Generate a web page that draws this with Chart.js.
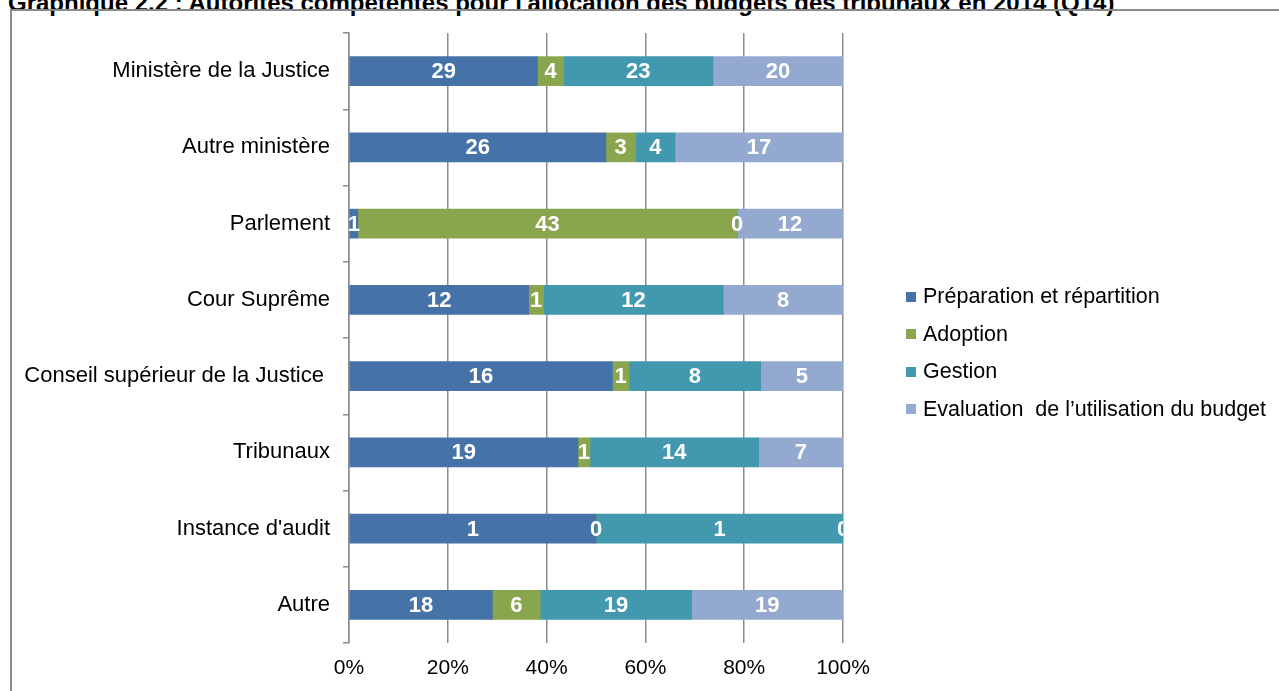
<!DOCTYPE html>
<html lang="fr">
<head>
<meta charset="utf-8">
<title>Graphique 2.2</title>
<script src="https://cdn.jsdelivr.net/npm/chart.js@4.4.1/dist/chart.umd.min.js"></script>
<style>
  html, body { margin: 0; padding: 0; background: #fff; overflow: hidden; }
  body { width: 1279px; height: 691px; position: relative; font-family: "Liberation Sans", Arial, sans-serif; }
  #title {
    position: absolute; left: 8px; top: -9px; white-space: nowrap;
    font: bold 24px/24px "Liberation Sans", Arial, sans-serif; color: #000;
  }
  #frame {
    position: absolute; left: 10px; top: 9px; width: 1400px; height: 800px;
    border-left: 2px solid #8a8a8a; border-top: 2px solid #8a8a8a;
  }
  #chartBox { position: absolute; left: 0; top: 0; width: 1279px; height: 691px; }
  #legend {
    position: absolute; left: 906px; top: 278px; margin: 0; padding: 0; list-style: none;
    font: 21.5px "Liberation Sans", Arial, sans-serif; color: #000;
  }
  #legend li { height: 37.5px; display: flex; align-items: center; white-space: pre; }
  #legend .sw { width: 10px; height: 10px; margin: 0 7px 0 0; flex: none; }
</style>
</head>
<body>
<div id="title">Graphique 2.2 : Autorités compétentes pour l'allocation des budgets des tribunaux en 2014 (Q14)</div>
<div id="frame"></div>
<div id="chartBox"><canvas id="chart" width="1279" height="691"></canvas></div>
<ul id="legend"></ul>
<script>
// categories (top to bottom)
const categories = [
  'Ministère de la Justice',
  'Autre ministère',
  'Parlement',
  'Cour Suprême',
  'Conseil supérieur de la Justice ',
  'Tribunaux',
  "Instance d'audit",
  'Autre'
];

// raw counts per series (bars are shown as share of each row total)
const preparation = [29, 26, 1, 12, 16, 19, 1, 18];
const adoption    = [4, 3, 43, 1, 1, 1, 0, 6];
const gestion     = [23, 4, 0, 12, 8, 14, 1, 19];
const evaluation  = [20, 17, 12, 8, 5, 7, 0, 19];

const seriesNames = [
  'Préparation et répartition',
  'Adoption',
  'Gestion',
  'Evaluation  de l\u2019utilisation du budget'
];
const seriesColors = ['#4572A7', '#89A54E', '#4198AF', '#93A9CF'];

const xTicks = [0, 20, 40, 60, 80, 100];

const FONT = '"Liberation Sans", Arial, sans-serif';
const GRID = '#8c8c8c';

const allSeries = [preparation, adoption, gestion, evaluation];
const totals = categories.map((_, i) => allSeries.reduce((s, arr) => s + arr[i], 0));

const datasets = allSeries.map((counts, k) => ({
  label: seriesNames[k],
  data: counts.map((v, i) => v / totals[i] * 100),
  counts: counts,
  backgroundColor: seriesColors[k],
  borderWidth: 0,
  barThickness: 29
}));

// draws the raw count in the middle of every segment, clipped to the plot
const countLabels = {
  id: 'countLabels',
  afterDatasetsDraw(chart) {
    const { ctx, chartArea } = chart;
    ctx.save();
    ctx.beginPath();
    ctx.rect(chartArea.left, chartArea.top, chartArea.right - chartArea.left, chartArea.bottom - chartArea.top);
    ctx.clip();
    ctx.fillStyle = '#fff';
    ctx.font = 'bold 22px ' + FONT;
    ctx.textAlign = 'center';
    ctx.textBaseline = 'middle';
    chart.data.datasets.forEach((ds, k) => {
      chart.getDatasetMeta(k).data.forEach((bar, i) => {
        const cx = (bar.x + bar.base) / 2;
        ctx.fillText(String(ds.counts[i]), cx, bar.y + 1);
      });
    });
    ctx.restore();
  }
};

new Chart(document.getElementById('chart'), {
  type: 'bar',
  data: { labels: categories, datasets: datasets },
  options: {
    indexAxis: 'y',
    responsive: false,
    animation: false,
    layout: { padding: { left: 0, top: 33, right: 436, bottom: 0 } },
    plugins: {
      legend: { display: false },
      tooltip: { enabled: false }
    },
    scales: {
      x: {
        stacked: true,
        min: 0,
        max: 100,
        afterBuildTicks: (scale) => { scale.ticks = xTicks.map(v => ({ value: v })); },
        afterFit: (scale) => { scale.height = 48; },
        grid: { color: GRID, lineWidth: 1.5, drawTicks: false },
        border: { display: false },
        ticks: {
          padding: 13,
          color: '#000',
          font: { family: FONT, size: 21 },
          callback: (v) => v + '%'
        }
      },
      y: {
        stacked: true,
        afterFit: (scale) => { scale.width = 349; },
        grid: { offset: true, drawOnChartArea: false, color: GRID, lineWidth: 1.5, tickLength: 6 },
        border: { display: true, color: GRID, width: 1.5 },
        ticks: {
          padding: 13,
          color: '#000',
          font: { family: FONT, size: 22 }
        }
      }
    }
  },
  plugins: [countLabels]
});

// legend
const legend = document.getElementById('legend');
seriesNames.forEach((name, k) => {
  const li = document.createElement('li');
  const sw = document.createElement('span');
  sw.className = 'sw';
  sw.style.background = seriesColors[k];
  li.appendChild(sw);
  li.appendChild(document.createTextNode(name));
  legend.appendChild(li);
});
</script>
</body>
</html>
